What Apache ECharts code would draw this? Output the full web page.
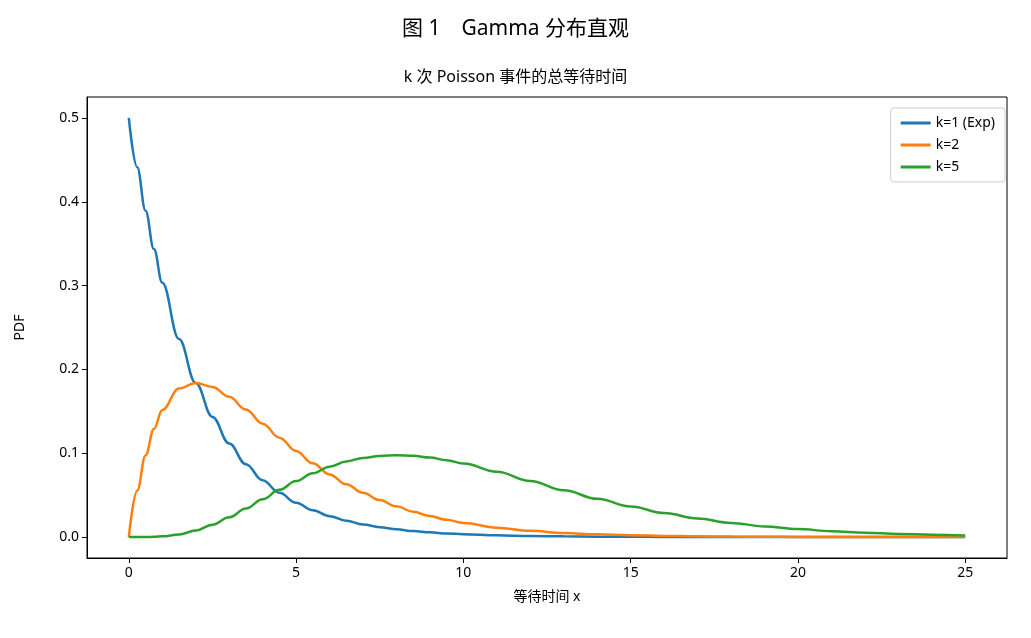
<!DOCTYPE html><html><head><meta charset="utf-8"><script src="https://cdn.jsdelivr.net/npm/echarts@6/dist/echarts.min.js"></script><style>html,body{margin:0;overflow:hidden}</style></head><body><div id="c" style="width:1031px;height:638px"></div><script>
const xs=[0,0.25,0.5,0.75,1,1.5,2,2.5,3,3.5,4,4.5,5,5.5,6,6.5,7,7.5,8,8.5,9,9.5,10,11,12,13,14,15,16,17,18,19,20,21,22,23,24,25];
const k1=[0.5,0.4412,0.3894,0.3436,0.3033,0.2362,0.1839,0.1433,0.1116,0.0869,0.0677,0.0527,0.0410,0.0320,0.0249,0.0194,0.0151,0.0118,0.0092,0.0071,0.0056,0.0043,0.0034,0.0020,0.0012,0.0008,0.0005,0.0003,0.0002,0.0001,0.0001,0,0,0,0,0,0,0];
const k2=[0,0.0552,0.0974,0.1289,0.1516,0.1771,0.1839,0.1791,0.1673,0.1521,0.1353,0.1186,0.1026,0.0879,0.0747,0.0631,0.0528,0.0441,0.0366,0.0303,0.0250,0.0205,0.0168,0.0112,0.0074,0.0049,0.0032,0.0021,0.0013,0.0009,0.0006,0.0004,0.0002,0.0001,0.0001,0.0001,0,0];
const k5=[0,0,0.0001,0.0003,0.0008,0.0031,0.0077,0.0146,0.0235,0.0340,0.0451,0.0563,0.0668,0.0761,0.0840,0.0902,0.0944,0.0968,0.0976,0.0969,0.0949,0.0917,0.0878,0.0780,0.0670,0.0559,0.0456,0.0365,0.0286,0.0221,0.0169,0.0127,0.0095,0.0070,0.0051,0.0037,0.0027,0.0019];
const names=['k=1 (Exp)','k=2','k=5'];
const colors=['#1f77b4','#ff7f0e','#2ca02c'];
const xt=[0,5,10,15,20,25], yt=[0,0.1,0.2,0.3,0.4,0.5];
const f='"Noto Sans","Noto Sans CJK SC",sans-serif';
const ch=echarts.init(document.getElementById('c'));
ch.setOption({animation:false,textStyle:{fontFamily:f},
title:[{text:'图 1　Gamma 分布直观',left:'center',top:14,textStyle:{fontSize:21,fontWeight:'normal',color:'#000',fontFamily:f}},
{text:'k 次 Poisson 事件的总等待时间',left:'center',top:64,textStyle:{fontSize:16,fontWeight:'normal',color:'#000',fontFamily:f}}],
legend:{top:108,right:26,orient:'vertical',itemWidth:30,itemHeight:3,itemGap:8,borderColor:'#ccc',borderWidth:1,borderRadius:3,padding:[8,10],textStyle:{fontSize:14,color:'#000'},icon:'rect',data:names},
grid:{left:87,right:24,top:97,bottom:80},
xAxis:{type:'value',min:-1.25,max:26.25,name:'等待时间 x',nameLocation:'middle',nameGap:32,nameTextStyle:{fontSize:14,color:'#000'},
axisLine:{onZero:false,lineStyle:{color:'#000'}},splitLine:{show:false},
axisTick:{customValues:xt,lineStyle:{color:'#000'}},axisLabel:{customValues:xt,fontSize:14,color:'#000'}},
yAxis:{type:'value',min:-0.025,max:0.525,name:'PDF',nameLocation:'middle',nameGap:60,nameTextStyle:{fontSize:14,color:'#000'},
axisLine:{show:true,onZero:false,lineStyle:{color:'#000'}},splitLine:{show:false},
axisTick:{show:true,customValues:yt,lineStyle:{color:'#000'}},axisLabel:{customValues:yt,fontSize:14,color:'#000',formatter:v=>v.toFixed(1)}},
series:[k1,k2,k5].map((d,i)=>({type:'line',name:names[i],data:xs.map((x,j)=>[x,d[j]]),smooth:0.4,smoothMonotone:'x',showSymbol:false,lineStyle:{width:2.5,color:colors[i]},itemStyle:{color:colors[i]}}))
});
ch.setOption({graphic:[{type:'rect',shape:{x:87,y:97,width:920,height:461},style:{fill:'none',stroke:'#000',lineWidth:1},silent:true}]});
</script></body></html>
